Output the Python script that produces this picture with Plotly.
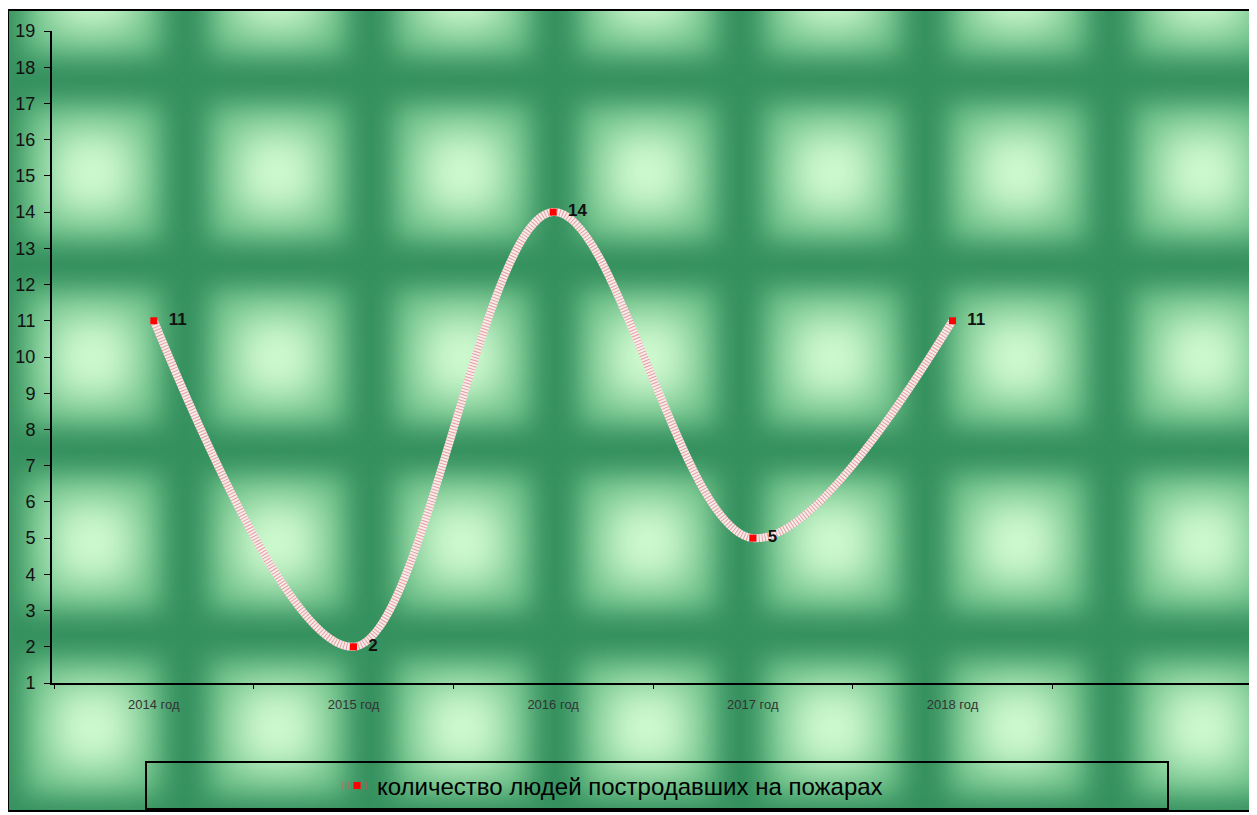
import base64
import plotly.graph_objects as go

categories = ["2014 год", "2015 год", "2016 год", "2017 год", "2018 год"]
values = [11, 2, 14, 5, 11]
series_name = "количество людей постродавших на пожарах"
y_ticks = list(range(1, 20))

# the page places the figure 8px from the window's top-left corner
OFF = 8
FW, FH = 1257 - OFF, 815 - OFF
PL, PR, PT, PB = 52 - OFF, 1250 - OFF, 31 - OFF, 683 - OFF
W, H = PR - PL, PB - PT


def px_x(p):  # p: window pixel
    return (p - OFF - PL) / W


def px_y(p):
    return (PB - (p - OFF)) / H


# textured background (tiled green "pillow" squares)
IMG_X0, IMG_Y0, IMG_X1, IMG_Y1 = 8, 10, 1250, 811
iw, ih = IMG_X1 - IMG_X0, IMG_Y1 - IMG_Y0
T = 185
svg = f'''<svg xmlns="http://www.w3.org/2000/svg" width="{iw}" height="{ih}" viewBox="0 0 {iw} {ih}">
<defs>
<filter id="a" x="-50%" y="-50%" width="200%" height="200%"><feGaussianBlur stdDeviation="13"/></filter>
<filter id="b" x="-80%" y="-80%" width="260%" height="260%"><feGaussianBlur stdDeviation="20"/></filter>
<pattern id="p" x="-8" y="70" width="{T}" height="{T}" patternUnits="userSpaceOnUse">
<rect width="{T}" height="{T}" fill="#35915e"/>
<rect x="24" y="24" width="{T-48}" height="{T-48}" fill="#6cbf87" filter="url(#a)"/>
<rect x="50" y="50" width="{T-100}" height="{T-100}" fill="#d0fad0" filter="url(#b)"/>
</pattern>
</defs>
<rect width="{iw}" height="{ih}" fill="url(#p)"/>
</svg>'''
src = "data:image/svg+xml;base64," + base64.b64encode(svg.encode()).decode()

fig = go.Figure()

# base white line
fig.add_trace(go.Scatter(
    x=categories, y=values, mode="lines",
    line=dict(color="#f7ecec", width=8, shape="spline", smoothing=1.0),
    showlegend=False, hoverinfo="skip",
))
# red hatch overlay + markers + labels
fig.add_trace(go.Scatter(
    x=categories, y=values, mode="lines+markers+text",
    name=series_name,
    line=dict(color="rgba(215,80,80,0.5)", width=8, shape="spline", smoothing=1.0, dash="1px,2px"),
    marker=dict(symbol="square", size=7, color="#ff0000"),
    text=["  " + str(v) for v in values],
    textposition="middle right",
    textfont=dict(family="Liberation Sans, Arial", size=17, color="#111111", weight="bold"),
))

fig.update_layout(
    width=FW, height=FH,
    margin=dict(l=PL, r=FW - PR, t=PT, b=FH - PB),
    paper_bgcolor="white",
    plot_bgcolor="rgba(0,0,0,0)",
    font=dict(family="Liberation Sans, Arial", color="#111111"),
    images=[dict(
        source=src, xref="paper", yref="paper",
        x=px_x(IMG_X0), y=px_y(IMG_Y0),
        sizex=iw / W, sizey=ih / H,
        xanchor="left", yanchor="top", sizing="stretch", layer="below",
    )],
    xaxis=dict(
        type="category", range=[-0.51, 5.49],
        showline=True, linecolor="black", linewidth=2,
        ticks="outside", ticklen=4, tickcolor="black", tickson="boundaries",
        ticklabelstandoff=8,
        tickfont=dict(size=13, color="#333333"),
        showgrid=False, zeroline=False,
    ),
    yaxis=dict(
        range=[1, 19], tickvals=y_ticks,
        showline=True, linecolor="black", linewidth=2,
        ticks="outside", ticklen=6, tickcolor="black",
        ticklabelstandoff=5,
        tickfont=dict(size=18, color="#111111"),
        showgrid=False, zeroline=False,
    ),
    legend=dict(
        x=px_x(337), y=px_y(786), xanchor="left", yanchor="middle",
        bgcolor="rgba(0,0,0,0)", borderwidth=0,
        font=dict(size=24, color="black"),
    ),
    showlegend=True,
    shapes=[
        dict(type="rect", xref="paper", yref="paper",
             x0=px_x(146), x1=px_x(1168), y0=px_y(809), y1=px_y(762),
             line=dict(color="black", width=2), fillcolor="rgba(0,0,0,0)"),
        dict(type="rect", xref="paper", yref="paper",
             x0=px_x(IMG_X0), x1=px_x(IMG_X1), y0=px_y(IMG_Y1), y1=px_y(IMG_Y0),
             line=dict(color="black", width=2), fillcolor="rgba(0,0,0,0)"),
    ],
)

fig.write_html("out.html")
